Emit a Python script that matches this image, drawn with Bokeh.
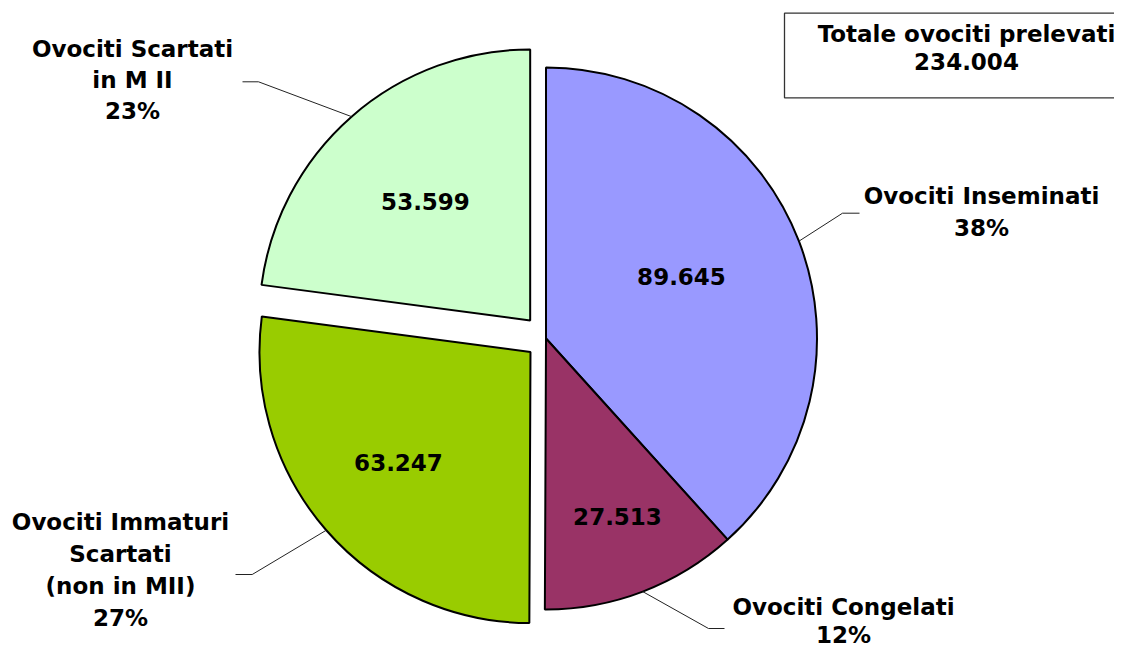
import math
from bokeh.plotting import figure
from bokeh.models import Range1d
from bokeh.core.properties import value
from bokeh.embed import file_html
from bokeh.resources import INLINE

# ---- data ----
categories = ["Ovociti Inseminati",
              "Ovociti Congelati",
              "Ovociti Immaturi\nScartati\n(non in MII)",
              "Ovociti Scartati\nin M II"]
values = [89645, 27513, 63247, 53599]
colors = ["#9999FF", "#993366", "#99CC00", "#CCFFCC"]
total_title = "Totale ovociti prelevati"

# ---- layout (reference pixel coordinates, y measured from top) ----
explode = [0, 0, 20.6, 24]
CX, CY, R = 545.5, 338.0, 271.0
value_pos = [(681, 276), (617, 516), (398, 462), (425, 201)]
label_pos = [(981, 195.5), (843, 606), (120, 521), (132, 48)]
line_h = [32, 28, 32, 31]
elbows = [[(842, 212.7), (859, 212.7)],
          [(708, 628), (724, 628)],
          [(251.7, 574), (235, 574)],
          [(258, 81.3), (242, 81.3)]]
FONT = "23px"

W, H = 1114, 647


def Y(y):
    return H - y


p = figure(width=W, height=H, x_range=Range1d(0, W),
           y_range=Range1d(0, H),
           output_backend="svg", toolbar_location=None, min_border=0,
           x_axis_type=None, y_axis_type=None)
p.outline_line_color = None
p.background_fill_color = "white"
p.border_fill_color = "white"
p.xgrid.visible = False
p.ygrid.visible = False

total = sum(values)
start = math.pi / 2
xs, ys, sas, eas, mids = [], [], [], [], []
for v, d in zip(values, explode):
    span = 2 * math.pi * v / total
    ea = start
    sa = start - span
    mid = (sa + ea) / 2
    xs.append(CX + d * math.cos(mid))
    ys.append(Y(CY) + d * math.sin(mid))
    sas.append(sa)
    eas.append(ea)
    mids.append(mid)
    start = sa

p.wedge(x=xs, y=ys, radius=R, start_angle=sas, end_angle=eas,
        fill_color=colors, line_color="black", line_width=2)

# leader lines
lx, ly = [], []
for i in range(len(values)):
    sx = xs[i] + R * math.cos(mids[i])
    sy = ys[i] + R * math.sin(mids[i])
    lx.append([sx] + [e[0] for e in elbows[i]])
    ly.append([sy] + [Y(e[1]) for e in elbows[i]])
p.multi_line(xs=lx, ys=ly, line_color="#222222", line_width=1)

# category labels
tx, ty, tt = [], [], []
for i, (cat, v) in enumerate(zip(categories, values)):
    pct = round(v / total * 100)
    lines = cat.split("\n") + [f"{pct}%"]
    x0, y0 = label_pos[i]
    for k, ln in enumerate(lines):
        tx.append(x0)
        ty.append(Y(y0 + k * line_h[i]))
        tt.append(ln)
p.text(x=tx, y=ty, text=tt, text_align="center", text_baseline="middle",
       text_font=value("DejaVu Sans"), text_font_style="bold",
       text_font_size=FONT, text_color="black")

# value labels inside slices
vx = [q[0] for q in value_pos]
vy = [Y(q[1]) for q in value_pos]
vt = [f"{v:,}".replace(",", ".") for v in values]
p.text(x=vx, y=vy, text=vt, text_align="center", text_baseline="middle",
       text_font=value("DejaVu Sans"), text_font_style="bold",
       text_font_size=FONT, text_color="black")

# total box
p.quad(left=784, right=1140, top=Y(12.7), bottom=Y(97.3),
       fill_color="white", line_color="#333333", line_width=1.3)
p.text(x=[966, 966], y=[Y(33.5), Y(60.5)],
       text=[total_title, f"{total:,}".replace(",", ".")],
       text_align="center", text_baseline="middle",
       text_font=value("DejaVu Sans"), text_font_style="bold",
       text_font_size=FONT, text_color="black")

open("out.html", "w").write(file_html(p, INLINE))
